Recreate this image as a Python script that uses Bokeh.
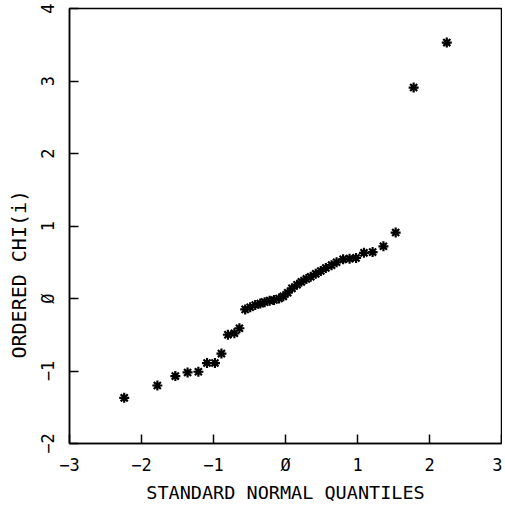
from bokeh.plotting import figure
from bokeh.models import Range1d, FixedTicker, Title
from bokeh.embed import file_html
from bokeh.resources import INLINE

# Standard normal quantiles (x) and ordered chi values (y)
quantiles = [-2.24, -1.78, -1.53, -1.36, -1.21, -1.09, -0.98, -0.89, -0.80, -0.71,
             -0.64, -0.56, -0.49, -0.42, -0.35, -0.29, -0.22, -0.16, -0.09, -0.03,
             0.03, 0.09, 0.16, 0.22, 0.29, 0.35, 0.42, 0.49, 0.56, 0.64,
             0.71, 0.80, 0.89, 0.98, 1.09, 1.21, 1.36, 1.53, 1.78, 2.24]
ordered_chi = [-1.37, -1.20, -1.07, -1.02, -1.01, -0.89, -0.89, -0.76, -0.50, -0.48,
               -0.41, -0.15, -0.12, -0.09, -0.07, -0.05, -0.03, -0.02, 0.00, 0.03,
               0.08, 0.14, 0.19, 0.23, 0.27, 0.30, 0.34, 0.38, 0.42, 0.46,
               0.50, 0.54, 0.55, 0.56, 0.63, 0.64, 0.72, 0.91, 2.91, 3.53]

x_ticks = [-3, -2, -1, 0, 1, 2, 3]
y_ticks = [-2, -1, 0, 1, 2, 3, 4]
x_title = "STANDARD NORMAL QUANTILES"
y_title = "ORDERED CHI(i)"

FONT = "DejaVu Sans Mono"

p = figure(width=502, height=506, output_backend="svg", toolbar_location=None,
           x_range=Range1d(-3, 3), y_range=Range1d(-2, 4),
           min_border_left=68, min_border_right=1, min_border_top=8,
           min_border_bottom=63)

p.background_fill_color = "white"
p.border_fill_color = "white"
p.outline_line_color = "black"
p.outline_line_width = 1.5
p.xgrid.visible = False
p.ygrid.visible = False

p.scatter(quantiles, ordered_chi, marker="asterisk", size=10, line_width=2.2,
          color="black")

for ax, ticks in ((p.xaxis, x_ticks), (p.yaxis, y_ticks)):
    ax.ticker = FixedTicker(ticks=ticks)
    ax.major_label_overrides = {0: "\u00d8"}
    ax.major_tick_in = 9
    ax.major_tick_out = 0
    ax.minor_tick_line_color = None
    ax.axis_line_color = "black"
    ax.axis_line_width = 1.5
    ax.major_tick_line_color = "black"
    ax.major_tick_line_width = 1.5
    ax.major_label_text_font = FONT
    ax.major_label_text_font_size = "17px"
    ax.major_label_text_color = "black"

p.xaxis.major_label_standoff = 11
p.yaxis.major_label_standoff = 12
p.yaxis.major_label_orientation = "vertical"

p.xaxis.axis_label = x_title
p.xaxis.axis_label_text_font = FONT
p.xaxis.axis_label_text_font_size = "18.5px"
p.xaxis.axis_label_text_font_style = "normal"
p.xaxis.axis_label_text_color = "black"
p.xaxis.axis_label_standoff = 4

ytitle = Title(text=y_title, align="left", offset=85, standoff=8,
               text_font=FONT, text_font_size="20px", text_font_style="normal",
               text_color="black")
p.add_layout(ytitle, "left")

open("out.html", "w").write(file_html(p, INLINE))
